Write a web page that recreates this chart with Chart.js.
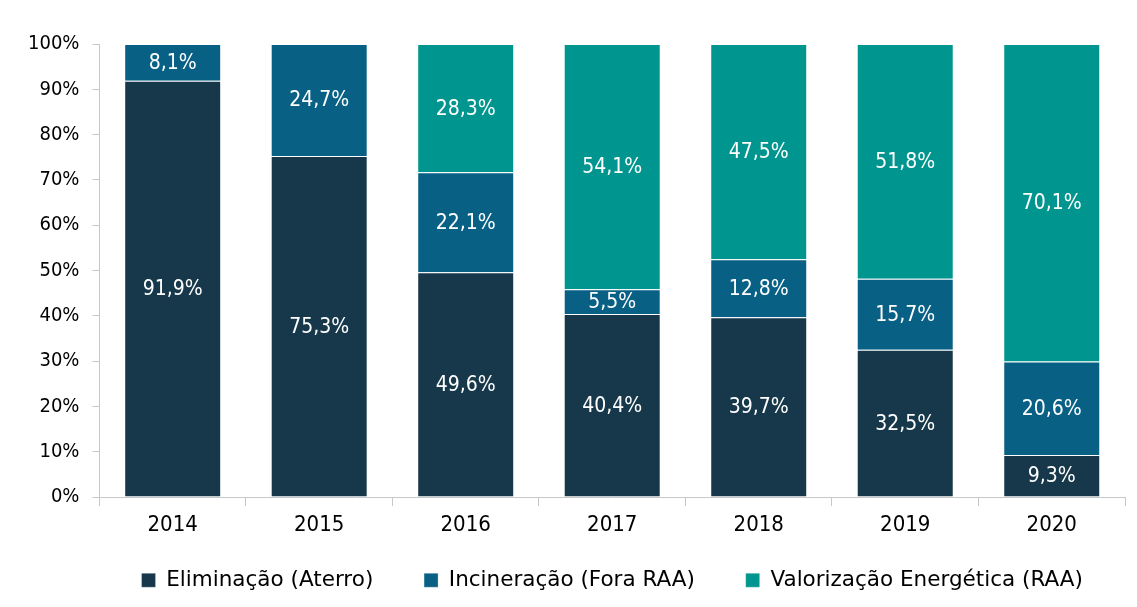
<!DOCTYPE html>
<html>
<head>
<meta charset="utf-8">
<script src="https://cdn.jsdelivr.net/npm/chart.js@4/dist/chart.umd.min.js"></script>
<style>
  html, body { margin: 0; padding: 0; background: #fff; }
  #wrap { width: 1137px; height: 607px; }
</style>
</head>
<body>
<div id="wrap"><canvas id="myChart" width="1137" height="607"></canvas></div>
<script>
const years = ['2014', '2015', '2016', '2017', '2018', '2019', '2020'];
const eliminacao = [91.9, 75.3, 49.6, 40.4, 39.7, 32.5, 9.3];
const incineracao = [8.1, 24.7, 22.1, 5.5, 12.8, 15.7, 20.6];
const valorizacao = [0, 0, 28.3, 54.1, 47.5, 51.8, 70.1];
const seriesNames = ['Eliminação (Aterro)', 'Incineração (Fora RAA)', 'Valorização Energética (RAA)'];

const fmt = v => v.toFixed(1).replace('.', ',') + '%';

// white value labels in the middle of each segment
const segmentLabels = {
  id: 'segmentLabels',
  afterDatasetsDraw(chart) {
    const ctx = chart.ctx;
    ctx.save();
    ctx.fillStyle = '#ffffff';
    ctx.font = 'condensed 21px "DejaVu Sans"';
    ctx.textAlign = 'center';
    ctx.textBaseline = 'middle';
    chart.data.datasets.forEach((ds, i) => {
      const meta = chart.getDatasetMeta(i);
      meta.data.forEach((bar, j) => {
        const v = ds.data[j];
        if (!v) return;
        ctx.fillText(fmt(v), bar.x, (bar.y + bar.base) / 2 + 1);
      });
    });
    ctx.restore();
  }
};

const data = {
  labels: years,
  datasets: [
    { label: seriesNames[0], data: eliminacao, backgroundColor: '#17384a' },
    { label: seriesNames[1], data: incineracao, backgroundColor: '#086085' },
    { label: seriesNames[2], data: valorizacao, backgroundColor: '#00968f' }
  ].map(d => Object.assign(d, {
    borderColor: 'rgba(255,255,255,0.3)',
    borderWidth: 1,
    barPercentage: 0.662,
    categoryPercentage: 1
  }))
};

const config = {
  type: 'bar',
  data,
  options: {
    responsive: false,
    animation: false,
    layout: { padding: { top: 44, right: 12, left: 15, bottom: 6 } },
    plugins: {
      tooltip: { enabled: false },
      legend: {
        position: 'bottom',
        fullSize: false,
        labels: {
          color: '#000',
          font: { family: 'DejaVu Sans', size: 21.5 },
          boxWidth: 14,
          boxHeight: 14,
          padding: 25,
          // extra trailing space to widen the gap between items
          generateLabels(chart) {
            const items = Chart.defaults.plugins.legend.labels.generateLabels(chart);
            items.forEach((it, i) => { if (i < items.length - 1) it.text += '\u2003\u2009'; });
            return items;
          }
        }
      }
    },
    scales: {
      x: {
        stacked: true,
        border: { color: '#c8c8c8', width: 1 },
        grid: { offset: true, drawOnChartArea: false, drawTicks: true, tickLength: 9, color: '#c8c8c8' },
        ticks: { color: '#000', font: { family: '"DejaVu Sans"', weight: 'condensed', size: 22 }, padding: 6 }
      },
      y: {
        stacked: true,
        min: 0,
        max: 100,
        border: { color: '#c8c8c8', width: 1 },
        grid: { drawOnChartArea: false, drawTicks: true, tickLength: 7, color: '#c8c8c8' },
        ticks: {
          stepSize: 10,
          color: '#000',
          font: { family: '"DejaVu Sans"', weight: 'condensed', size: 20 },
          padding: 13,
          callback: v => v + '%'
        }
      }
    }
  },
  plugins: [segmentLabels]
};

const myChart = new Chart(document.getElementById('myChart'), config);
</script>
</body>
</html>
